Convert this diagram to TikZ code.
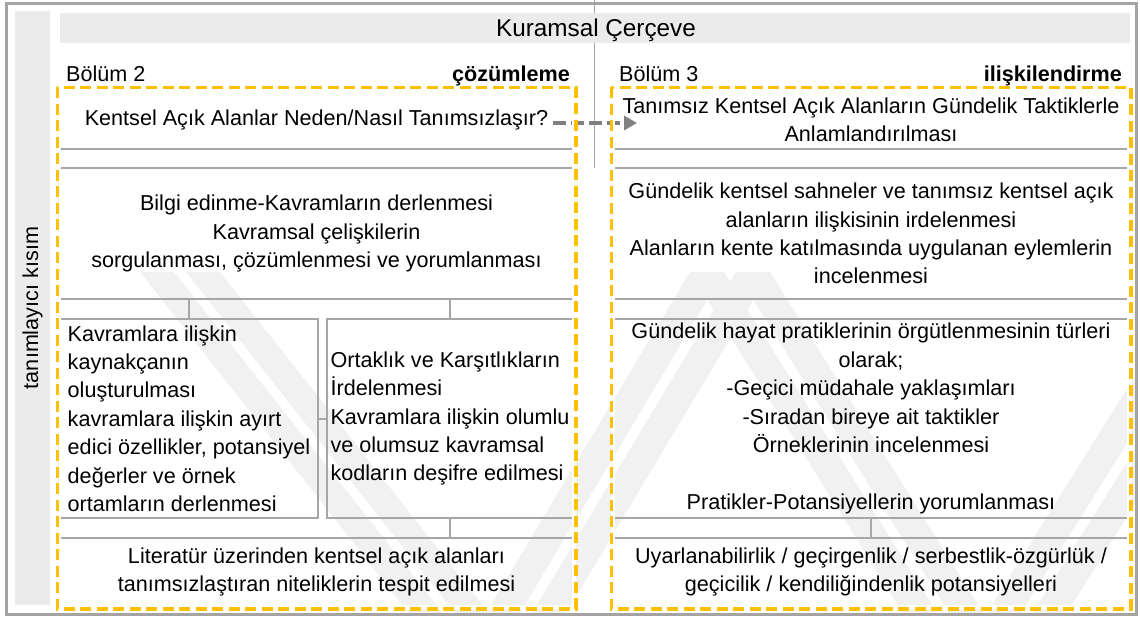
\documentclass[tikz,border=0pt]{standalone}
\usepackage{fontspec}
\setmainfont{Liberation Sans}
\usetikzlibrary{arrows.meta,calc,fit}
\definecolor{frameg}{RGB}{166,164,162}
\definecolor{barg}{RGB}{235,235,235}
\definecolor{boxg}{RGB}{166,166,166}
\definecolor{ylw}{RGB}{255,192,0}
\definecolor{arrg}{RGB}{128,128,128}
\definecolor{wmark}{RGB}{241,241,241}
\newcommand\wmarm[2]{%
  \fill[wmark] ({#1-40},272) -- ({#1-6},272) -- ({#2-6},640) -- ({#2-40},640) -- cycle;
  \fill[wmark] ({#1+6},272) -- ({#1+40},272) -- ({#2+40},640) -- ({#2+6},640) -- cycle;}
\begin{document}
\begin{tikzpicture}[x=1pt,y=-1pt,
  txt/.style={font=\fontsize{21.6}{28.4}\selectfont, inner sep=0pt},
  gbox/.style={draw=boxg, line width=2pt, inner sep=0pt, txt, align=center},
  conn/.style={draw=boxg, line width=2pt},
  ygroup/.style={draw=white, line width=3.5pt, inner sep=0pt},
  ydash/.style={draw=ylw, line width=3.5pt, dash pattern=on 11pt off 5.5pt},
  bar/.style={fill=barg, inner sep=0pt},
  lbl/.style={txt, anchor=base west},
  lblb/.style={txt, font=\fontsize{21.6}{28.4}\selectfont\bfseries, anchor=base east},
  flow/.style={draw=arrg, line width=4.5pt, dash pattern=on 13pt off 5pt, -{Triangle[length=13pt,width=14pt]}}]
\useasboundingbox (0,0) rectangle (1140,619);
% watermark
\begin{scope}
\clip (7,5) rectangle (1135,613);
\wmarm{180}{470}
\wmarm{730}{510}
\wmarm{730}{960}
\wmarm{1240}{1010}
\end{scope}
% divider
\coordinate (dtop) at (594.5,0);
\coordinate (dbot) at (594.5,168);
\draw[conn, line width=1.5pt] (dtop) -- (dbot);
% outer frame
\draw[frameg, line width=3pt] (6,3.5) rectangle (1136,614);
% side bar and header
\node[bar, rotate=90, minimum width=594pt, minimum height=35pt, txt] (side) at (32.5,308) {tanımlayıcı kısım};
\node[bar, minimum width=1070pt, minimum height=30pt] (hdr) at (595,28) {};
\node[txt, font=\fontsize{24.3}{28}\selectfont, anchor=base] (hdrt) at (596,36.5) {Kuramsal Çerçeve};
% section labels
\node[lbl] (b2) at (66,81) {Bölüm 2};
\node[lblb] (c2) at (570,81) {çözümleme};
\node[lbl] (b3) at (619,81) {Bölüm 3};
\node[lblb] (c3) at (1122,81) {ilişkilendirme};
% left column
\node[gbox, minimum width=513pt, minimum height=59pt] (l1) at (316.5,119.5) {Kentsel Açık Alanlar Neden/Nasıl Tanımsızlaşır?};
\node[gbox, minimum width=513pt, minimum height=131pt] (l2) at (316.5,233.5) {Bilgi edinme-Kavramların derlenmesi\\Kavramsal çelişkilerin\\sorgulanması, çözümlenmesi ve yorumlanması};
\node[gbox, minimum width=258pt, minimum height=199pt, align=left] (l3a) at (189,418.5) {Kavramlara ilişkin\\kaynakçanın\\oluşturulması\\kavramlara ilişkin ayırt\\edici özellikler, potansiyel\\değerler ve örnek\\ortamların derlenmesi};
\node[gbox, minimum width=246pt, minimum height=199pt, align=left] (l3b) at (450,418.5) {Ortaklık ve Karşıtlıkların\\İrdelenmesi\\Kavramlara ilişkin olumlu\\ve olumsuz kavramsal\\kodların deşifre edilmesi};
\node[gbox, minimum width=513pt, minimum height=68pt] (l4) at (316.5,572) {Literatür üzerinden kentsel açık alanları\\tanımsızlaştıran niteliklerin tespit edilmesi};
% right column
\node[gbox, minimum width=514pt, minimum height=59pt] (r1) at (871,119.5) {Tanımsız Kentsel Açık Alanların Gündelik Taktiklerle\\Anlamlandırılması};
\node[gbox, minimum width=514pt, minimum height=131pt] (r2) at (871,233.5) {Gündelik kentsel sahneler ve tanımsız kentsel açık\\alanların ilişkisinin irdelenmesi\\Alanların kente katılmasında uygulanan eylemlerin\\incelenmesi};
\node[gbox, minimum width=514pt, minimum height=199pt] (r3) at (871,418.5) {Gündelik hayat pratiklerinin örgütlenmesinin türleri\\olarak;\\-Geçici müdahale yaklaşımları\\-Sıradan bireye ait taktikler\\Örneklerinin incelenmesi\\[28.4pt]Pratikler-Potansiyellerin yorumlanması};
\node[gbox, minimum width=514pt, minimum height=68pt] (r4) at (871,572) {Uyarlanabilirlik / geçirgenlik / serbestlik-özgürlük /\\geçicilik / kendiliğindenlik potansiyelleri};
% connectors
\draw[conn] (l2.south -| l3a.north) -- (l3a.north);
\draw[conn] (l2.south -| l3b.north) -- (l3b.north);
\draw[conn] (l3a.east) -- (l3b.west);
\draw[conn] (l3b.south) -- (l3b.south |- l4.north);
\draw[conn] (r3.south) -- (r4.north);
% flow arrow
\coordinate (as) at (553,123);
\coordinate (ae) at (637,123);
\draw[flow] (as) -- (ae);
% yellow dashed groups
\node[ygroup, fit=(l1)(l4)] (lgrp) {};
\node[ygroup, fit=(r1)(r4)] (rgrp) {};
\draw[ydash] (lgrp.north west) rectangle (lgrp.south east);
\draw[ydash] (rgrp.north west) rectangle (rgrp.south east);
\end{tikzpicture}
\end{document}
